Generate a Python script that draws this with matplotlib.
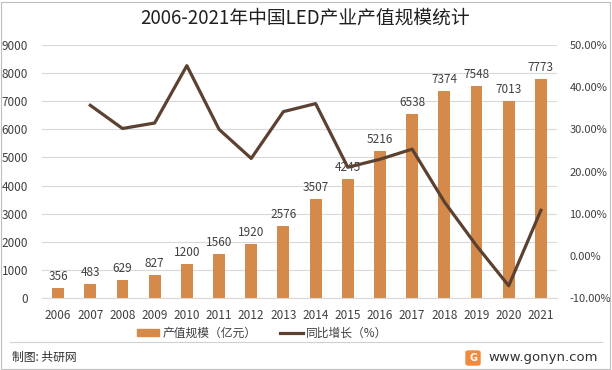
import matplotlib.pyplot as plt
from matplotlib.patches import Rectangle, FancyBboxPatch
from matplotlib.lines import Line2D

plt.rcParams['font.family'] = ['Noto Sans CJK SC', 'DejaVu Sans']

# 数据
years = ['2006', '2007', '2008', '2009', '2010', '2011', '2012', '2013',
         '2014', '2015', '2016', '2017', '2018', '2019', '2020', '2021']
output_value = [356, 483, 629, 827, 1200, 1560, 1920, 2576,
                3507, 4245, 5216, 6538, 7374, 7548, 7013, 7773]
# 同比增长（%），2006 年无数据
growth_years = years[1:]
growth_pct = [35.7, 30.2, 31.5, 45.1, 30.0, 23.1, 34.2,
              36.1, 21.0, 22.9, 25.3, 12.8, 2.4, -7.1, 10.8]

left_ticks = [0, 1000, 2000, 3000, 4000, 5000, 6000, 7000, 8000, 9000]
right_ticks = [-10, 0, 10, 20, 30, 40, 50]

BAR_COLOR = '#D38A4B'
LINE_COLOR = '#5C4130'
TEXT_COLOR = '#404040'

W, H = 612, 370
fig = plt.figure(figsize=(W / 100, H / 100), dpi=100)

# 坐标区：x 42-557, y 45-298 (像素)
ax = fig.add_axes([42 / W, 1 - 298 / H, (557 - 42) / W, (298 - 45) / H])
x = list(range(len(years)))
bars = ax.bar(x, output_value, width=0.37, color=BAR_COLOR, zorder=2)
for xi, v in zip(x, output_value):
    ax.text(xi, v + 180, str(v), ha='center', va='bottom', fontsize=8.5,
            color=TEXT_COLOR, zorder=4)

ax.set_xlim(-0.5, len(years) - 0.5)
ax.set_ylim(0, 9000)
ax.set_yticks(left_ticks)
ax.set_xticks(x)
ax.set_xticklabels(years)
ax.grid(axis='y', color='#D9D9D9', linewidth=0.8, zorder=0)
for s in ['top', 'left', 'right']:
    ax.spines[s].set_visible(False)
ax.spines['bottom'].set_color('#D9D9D9')
ax.tick_params(axis='both', length=0, labelsize=8.5, labelcolor=TEXT_COLOR)
ax.tick_params(axis='x', pad=8)
ax.tick_params(axis='y', pad=10)

ax2 = ax.twinx()
gx = [years.index(y) for y in growth_years]
ax2.plot(gx, growth_pct, color=LINE_COLOR, linewidth=2.3, zorder=3)
ax2.set_ylim(-10, 50)
ax2.set_yticks(right_ticks)
ax2.set_yticklabels([f'{t:.2f}%' for t in right_ticks])
for s in ['top', 'left', 'right', 'bottom']:
    ax2.spines[s].set_visible(False)
ax2.tick_params(axis='y', length=0, labelsize=8, labelcolor=TEXT_COLOR, pad=9)

# 标题
fig.text(305 / W, 1 - 18 / H, '2006-2021年中国LED产业产值规模统计', ha='center',
         va='center', fontsize=13.5, color='#202020')

# 图例
handles = [Rectangle((0, 0), 1, 1, color=BAR_COLOR),
           Line2D([0], [0], color=LINE_COLOR, linewidth=2.3)]
fig.legend(handles, ['产值规模（亿元）', '同比增长（%）'], loc='center',
           bbox_to_anchor=(262 / W, 1 - 333 / H), ncol=2, frameon=False,
           fontsize=8.5, handlelength=1.9, handleheight=0.5, columnspacing=2.0,
           handletextpad=0.3, labelcolor=TEXT_COLOR)

# 分隔线与底部文字
fig.add_artist(Line2D([10 / W, 602 / W], [1 - 342 / H, 1 - 342 / H],
                      color='#D0D0D0', linewidth=0.8))
fig.text(12 / W, 1 - 357 / H, '制图: 共研网', ha='left', va='center',
         fontsize=8.5, color='#303030')
fig.text(598 / W, 1 - 357 / H, 'www.gonyn.com', ha='right', va='center',
         fontsize=9.5, color='#303030', family='DejaVu Sans')
logo = FancyBboxPatch((466 / W, 1 - 365 / H), 14 / W, 14 / H,
                      boxstyle='round,pad=0,rounding_size=0.004',
                      transform=fig.transFigure, color='#F08A3C')
fig.add_artist(logo)
fig.text(473 / W, 1 - 358 / H, 'G', ha='center', va='center', fontsize=7,
         color='white', fontweight='bold', family='DejaVu Sans')

# 外框
fig.add_artist(Rectangle((1 / W, 1 / H), (W - 3) / W, (H - 3) / H,
                         transform=fig.transFigure, fill=False,
                         edgecolor='#BFBFBF', linewidth=0.8))

fig.savefig('out.png', dpi=100)
